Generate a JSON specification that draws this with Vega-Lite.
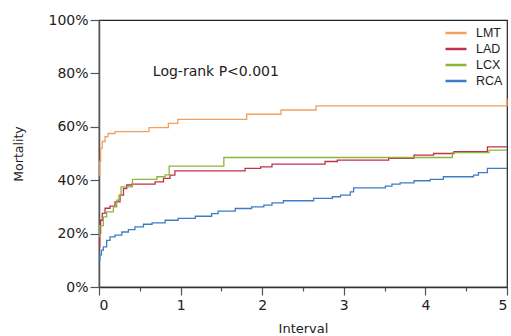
{
  "$schema": "https://vega.github.io/schema/vega-lite/v6.json",
  "autosize": {"type": "none"},
  "width": 408,
  "height": 267,
  "padding": {"left": 99, "top": 20, "right": 4, "bottom": 49},
  "background": "white",
  "config": {
    "font": "DejaVu Sans",
    "view": {"stroke": "#222", "strokeWidth": 1.2},
    "axis": {"labelFont": "DejaVu Sans", "titleFont": "DejaVu Sans", "labelColor": "#222", "titleColor": "#222", "domainColor": "#555", "tickColor": "#555", "domainWidth": 1.5, "tickWidth": 1.2}
  },
  "datasets": {
    "km": [
      {"t": 0, "p": 0.42, "g": "LMT"}, {"t": 0.01, "p": 0.47, "g": "LMT"}, {"t": 0.02, "p": 0.52, "g": "LMT"}, {"t": 0.04, "p": 0.545, "g": "LMT"}, {"t": 0.074, "p": 0.563, "g": "LMT"}, {"t": 0.11, "p": 0.575, "g": "LMT"}, {"t": 0.196, "p": 0.582, "g": "LMT"}, {"t": 0.613, "p": 0.597, "g": "LMT"}, {"t": 0.85, "p": 0.613, "g": "LMT"}, {"t": 0.965, "p": 0.628, "g": "LMT"}, {"t": 1.81, "p": 0.647, "g": "LMT"}, {"t": 2.23, "p": 0.663, "g": "LMT"}, {"t": 2.66, "p": 0.678, "g": "LMT"}, {"t": 4.995, "p": 0.678, "g": "LMT"}, {"t": 5, "p": 0.705, "g": "LMT"},
      {"t": 0, "p": 0.15, "g": "LAD"}, {"t": 0.01, "p": 0.2, "g": "LAD"}, {"t": 0.02, "p": 0.25, "g": "LAD"}, {"t": 0.04, "p": 0.276, "g": "LAD"}, {"t": 0.074, "p": 0.295, "g": "LAD"}, {"t": 0.135, "p": 0.303, "g": "LAD"}, {"t": 0.196, "p": 0.319, "g": "LAD"}, {"t": 0.258, "p": 0.344, "g": "LAD"}, {"t": 0.3, "p": 0.369, "g": "LAD"}, {"t": 0.34, "p": 0.382, "g": "LAD"}, {"t": 0.4, "p": 0.385, "g": "LAD"}, {"t": 0.687, "p": 0.394, "g": "LAD"}, {"t": 0.79, "p": 0.407, "g": "LAD"}, {"t": 0.87, "p": 0.419, "g": "LAD"}, {"t": 0.93, "p": 0.435, "g": "LAD"}, {"t": 1.79, "p": 0.444, "g": "LAD"}, {"t": 1.98, "p": 0.45, "g": "LAD"}, {"t": 2.12, "p": 0.46, "g": "LAD"}, {"t": 2.77, "p": 0.47, "g": "LAD"}, {"t": 2.92, "p": 0.475, "g": "LAD"}, {"t": 3.55, "p": 0.482, "g": "LAD"}, {"t": 3.86, "p": 0.494, "g": "LAD"}, {"t": 4.1, "p": 0.5, "g": "LAD"}, {"t": 4.35, "p": 0.507, "g": "LAD"}, {"t": 4.76, "p": 0.525, "g": "LAD"}, {"t": 5, "p": 0.525, "g": "LAD"},
      {"t": 0, "p": 0.19, "g": "LCX"}, {"t": 0.01, "p": 0.23, "g": "LCX"}, {"t": 0.053, "p": 0.263, "g": "LCX"}, {"t": 0.094, "p": 0.281, "g": "LCX"}, {"t": 0.176, "p": 0.3, "g": "LCX"}, {"t": 0.217, "p": 0.325, "g": "LCX"}, {"t": 0.245, "p": 0.344, "g": "LCX"}, {"t": 0.27, "p": 0.375, "g": "LCX"}, {"t": 0.41, "p": 0.403, "g": "LCX"}, {"t": 0.71, "p": 0.413, "g": "LCX"}, {"t": 0.81, "p": 0.42, "g": "LCX"}, {"t": 0.86, "p": 0.453, "g": "LCX"}, {"t": 1.53, "p": 0.485, "g": "LCX"}, {"t": 4.33, "p": 0.503, "g": "LCX"}, {"t": 4.78, "p": 0.513, "g": "LCX"}, {"t": 5, "p": 0.513, "g": "LCX"},
      {"t": 0, "p": 0.1, "g": "RCA"}, {"t": 0.012, "p": 0.12, "g": "RCA"}, {"t": 0.03, "p": 0.138, "g": "RCA"}, {"t": 0.053, "p": 0.15, "g": "RCA"}, {"t": 0.094, "p": 0.175, "g": "RCA"}, {"t": 0.135, "p": 0.188, "g": "RCA"}, {"t": 0.196, "p": 0.194, "g": "RCA"}, {"t": 0.28, "p": 0.206, "g": "RCA"}, {"t": 0.36, "p": 0.215, "g": "RCA"}, {"t": 0.44, "p": 0.225, "g": "RCA"}, {"t": 0.545, "p": 0.235, "g": "RCA"}, {"t": 0.65, "p": 0.24, "g": "RCA"}, {"t": 0.81, "p": 0.25, "g": "RCA"}, {"t": 0.97, "p": 0.257, "g": "RCA"}, {"t": 1.18, "p": 0.265, "g": "RCA"}, {"t": 1.38, "p": 0.275, "g": "RCA"}, {"t": 1.46, "p": 0.284, "g": "RCA"}, {"t": 1.67, "p": 0.294, "g": "RCA"}, {"t": 1.87, "p": 0.3, "g": "RCA"}, {"t": 2.02, "p": 0.307, "g": "RCA"}, {"t": 2.12, "p": 0.315, "g": "RCA"}, {"t": 2.26, "p": 0.323, "g": "RCA"}, {"t": 2.63, "p": 0.332, "g": "RCA"}, {"t": 2.86, "p": 0.338, "g": "RCA"}, {"t": 2.96, "p": 0.344, "g": "RCA"}, {"t": 3.08, "p": 0.356, "g": "RCA"}, {"t": 3.12, "p": 0.371, "g": "RCA"}, {"t": 3.51, "p": 0.378, "g": "RCA"}, {"t": 3.59, "p": 0.385, "g": "RCA"}, {"t": 3.69, "p": 0.39, "g": "RCA"}, {"t": 3.86, "p": 0.398, "g": "RCA"}, {"t": 4.06, "p": 0.403, "g": "RCA"}, {"t": 4.22, "p": 0.413, "g": "RCA"}, {"t": 4.59, "p": 0.419, "g": "RCA"}, {"t": 4.65, "p": 0.428, "g": "RCA"}, {"t": 4.76, "p": 0.444, "g": "RCA"}, {"t": 5, "p": 0.444, "g": "RCA"}
    ],
    "note": [{"t": 0.66, "p": 0.805, "label": "Log-rank P<0.001"}]
  },
  "layer": [
    {
      "data": {"name": "km"},
      "mark": {"type": "line", "interpolate": "step-after", "strokeWidth": 1.3, "clip": false},
      "encoding": {
        "x": {"field": "t", "type": "quantitative", "scale": {"domain": [0, 5], "nice": false, "zero": false},
          "axis": {"title": "Interval", "titleFontSize": 13, "titleFontWeight": "normal", "titlePadding": 10, "labelFontSize": 14, "labelPadding": 3, "grid": false, "domainColor": "#333",
            "values": [0, 0.5, 1, 1.5, 2, 2.5, 3, 3.5, 4, 4.5, 5],
            "labelExpr": "datum.value % 1 === 0 ? format(datum.value, 'd') : ''",
            "tickSize": {"condition": {"test": "datum.value % 1 === 0", "value": 8}, "value": 4}}},
        "y": {"field": "p", "type": "quantitative", "scale": {"domain": [0, 1], "nice": false},
          "axis": {"title": "Mortality", "titleFontSize": 12.5, "titleFontWeight": "normal", "titlePadding": 22, "labelFontSize": 14, "labelPadding": 2, "grid": false,
            "values": [0, 0.1, 0.2, 0.3, 0.4, 0.5, 0.6, 0.7, 0.8, 0.9, 1],
            "labelExpr": "round(datum.value * 10) % 2 === 0 ? format(datum.value, '.0%') : ''",
            "tickSize": {"condition": {"test": "round(datum.value * 10) % 2 === 0", "value": 9}, "value": 5}}},
        "color": {"field": "g", "type": "nominal",
          "scale": {"domain": ["LMT", "LAD", "LCX", "RCA"], "range": ["#F2A05C", "#C0304F", "#8FB43C", "#3C7DC4"]},
          "legend": {"title": null, "orient": "none", "legendX": 348, "legendY": 4, "labelFont": "Liberation Sans", "labelFontSize": 12.5, "labelColor": "#222", "symbolType": "M-1.4,0H1.4", "symbolSize": 225, "symbolStrokeWidth": 2.5, "labelOffset": 11, "rowPadding": 0}}
      }
    },
    {
      "data": {"name": "note"},
      "mark": {"type": "text", "align": "left", "baseline": "middle", "fontSize": 14, "font": "DejaVu Sans", "color": "#222"},
      "encoding": {
        "x": {"field": "t", "type": "quantitative"},
        "y": {"field": "p", "type": "quantitative"},
        "text": {"field": "label"}
      }
    }
  ]
}
